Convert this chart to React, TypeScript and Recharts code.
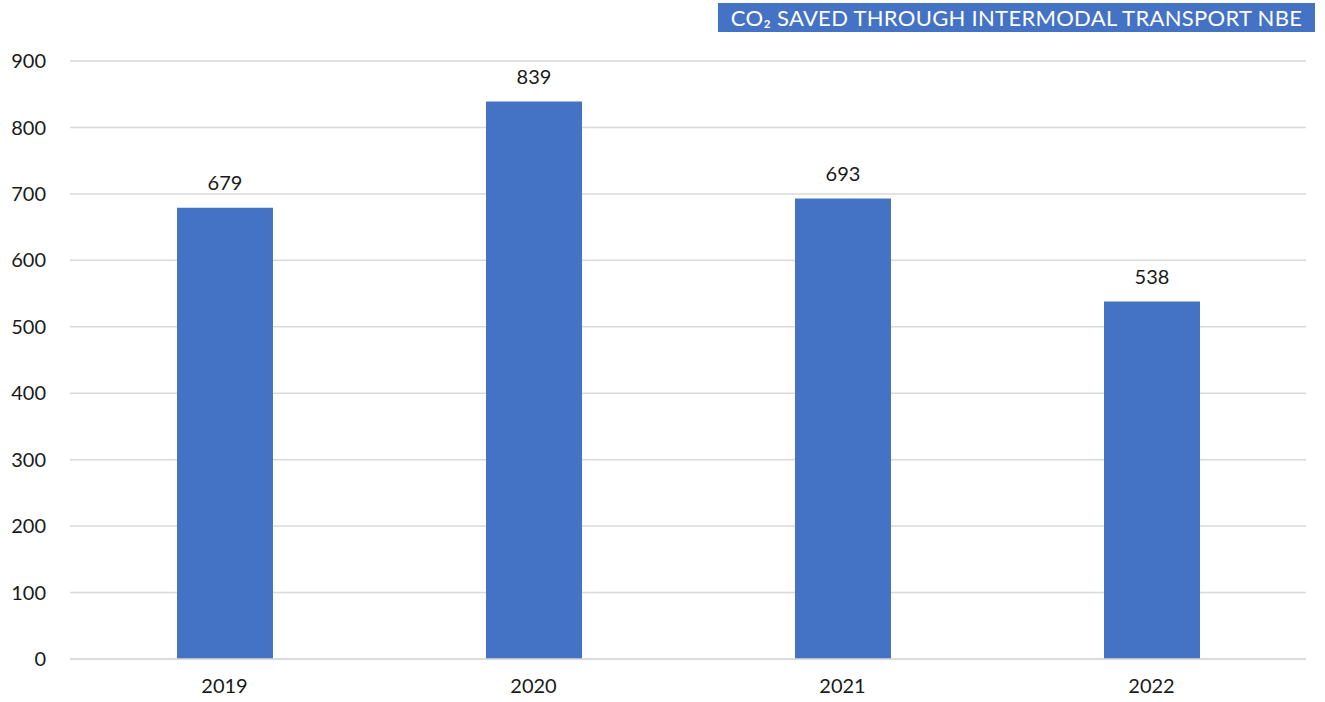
import React from 'react';
import { BarChart, Bar, XAxis, YAxis, CartesianGrid, LabelList } from 'recharts';

const years = ['2019', '2020', '2021', '2022'];
const co2Saved = [679, 839, 693, 538];
const yTicks = [0, 100, 200, 300, 400, 500, 600, 700, 800, 900];

const data = years.map((year, i) => ({ year, value: co2Saved[i] }));

const FONT = 'Lato, "Open Sans", sans-serif';
const TEXT = '#1a1a1a';

const App = () => {
  return (
    <div style={{ position: 'absolute', left: 0, top: 0, width: 1325, height: 702, background: '#fff', fontFamily: FONT }}>
      <div
        style={{
          position: 'absolute',
          left: 718,
          top: 3,
          width: 597,
          height: 29,
          background: '#4472C4',
          color: '#fff',
          fontSize: 22,
          lineHeight: '29px',
          textAlign: 'center',
          letterSpacing: 0.3,
          whiteSpace: 'nowrap',
        }}
      >
        CO₂ SAVED THROUGH INTERMODAL TRANSPORT NBE
      </div>
      <BarChart
        width={1325}
        height={702}
        data={data}
        margin={{ top: 61, right: 19, bottom: 0, left: 0 }}
        barSize={96}
      >
        <CartesianGrid vertical={false} stroke="#d9d9d9" strokeWidth={1.5} />
        <XAxis
          dataKey="year"
          height={43}
          tickLine={false}
          axisLine={{ stroke: '#d9d9d9', strokeWidth: 1.5 }}
          tickSize={0}
          tickMargin={20}
          tick={{ fill: TEXT, fontSize: 20, fontFamily: FONT }}
        />
        <YAxis
          width={70}
          domain={[0, 900]}
          ticks={yTicks}
          interval={0}
          axisLine={false}
          tickLine={false}
          tickSize={0}
          tickMargin={24}
          tick={{ fill: TEXT, fontSize: 20, fontFamily: FONT }}
        />
        <Bar dataKey="value" fill="#4472C4" isAnimationActive={false}>
          <LabelList
            dataKey="value"
            position="top"
            offset={18}
            style={{ fill: TEXT, fontSize: 20, fontFamily: FONT }}
          />
        </Bar>
      </BarChart>
    </div>
  );
};

export default App;
